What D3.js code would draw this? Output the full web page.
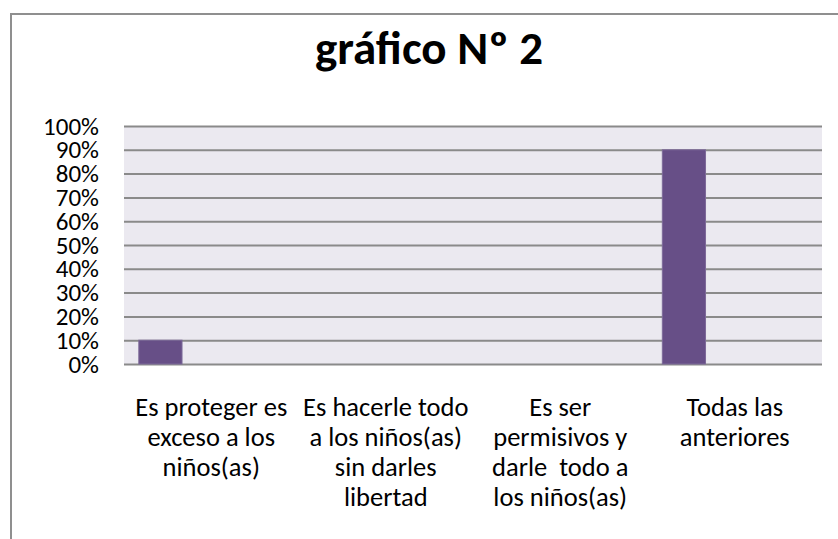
<!DOCTYPE html>
<html>
<head>
<meta charset="utf-8">
<script src="https://cdn.jsdelivr.net/npm/d3@7"></script>
<style>
  body { margin: 0; background: #fff; }
  svg { display: block; }
</style>
</head>
<body>
<svg id="chart" width="838" height="539"></svg>
<script>
  // data
  var categories = [
    ['Es proteger es', 'exceso a los', 'niños(as)'],
    ['Es hacerle todo', 'a los niños(as)', 'sin darles', 'libertad'],
    ['Es ser', 'permisivos y', 'darle  todo a', 'los niños(as)'],
    ['Todas las', 'anteriores']
  ]
  var values = [0.10, 0, 0, 0.90]
  var yTicks = [0, 0.1, 0.2, 0.3, 0.4, 0.5, 0.6, 0.7, 0.8, 0.9, 1]
  var title = 'gráfico Nº 2'

  var svgWidth = 838, svgHeight = 539
  var plot = {left: 124, right: 822, top: 126, bottom: 364}
  var font = "Carlito, 'Liberation Sans Narrow', 'Open Sans', sans-serif"

  var svg = d3.select('#chart')

  // outer chart border
  svg.append('rect')
     .attr('x', 11).attr('y', 14)
     .attr('width', 900).attr('height', 600)
     .style('fill', '#fff')
     .style('stroke', '#8f8f8f')
     .style('stroke-width', 2)

  var x = d3.scaleBand()
            .domain(d3.range(categories.length))
            .range([plot.left, plot.right])
            .paddingInner(0).paddingOuter(0)

  // bar slot inside each category (bars sit left of centre, as in the original)
  var slot = d3.scaleBand()
               .domain([0, 1, 2])
               .range([0, x.bandwidth()])
               .paddingOuter(0.52)
               .align(0.33)

  var y = d3.scaleLinear().domain([0, 1]).range([plot.bottom, plot.top])

  svg.append('rect')
     .attr('x', plot.left).attr('y', plot.top)
     .attr('width', plot.right - plot.left)
     .attr('height', plot.bottom - plot.top)
     .style('fill', '#ebe9f0')

  // gridlines
  svg.append('g')
     .attr('transform', 'translate(' + plot.left + ',0)')
     .call(d3.axisRight(y).tickValues(yTicks).tickSize(plot.right - plot.left).tickFormat(''))
     .call(function(g){
       g.select('.domain').remove()
       g.selectAll('line').style('stroke', '#8a8a8a').style('stroke-width', 2)
     })

  // y labels
  svg.append('g')
     .attr('transform', 'translate(' + plot.left + ',0)')
     .call(d3.axisLeft(y).tickValues(yTicks).tickSize(0).tickPadding(25).tickFormat(d3.format('.0%')))
     .call(function(g){
       g.select('.domain').remove()
       g.selectAll('text')
        .style('font-family', font)
        .style('font-size', '25px')
        .style('fill', '#000')
     })

  // bars
  svg.selectAll('rect.bar')
     .data(values)
     .enter()
     .append('rect')
     .attr('class', 'bar')
     .attr('x', function(d, i){ return x(i) + slot(0) })
     .attr('width', slot.bandwidth())
     .attr('y', function(d){ return y(d) })
     .attr('height', function(d){ return y(0) - y(d) })
     .style('fill', '#674f87')
     .style('stroke', '#7d6a99')
     .style('stroke-width', 1)
     .style('display', function(d){ return d > 0 ? null : 'none' })

  // category labels
  var labels = svg.selectAll('text.cat')
     .data(categories)
     .enter()
     .append('text')
     .attr('class', 'cat')
     .attr('text-anchor', 'middle')
     .attr('x', function(d, i){ return x(i) + x.bandwidth() / 2 })
     .attr('y', 416)
     .style('font-family', font)
     .style('font-size', '26.5px')
     .style('white-space', 'pre')
     .style('fill', '#000')

  labels.selectAll('tspan')
     .data(function(d){ return d })
     .enter()
     .append('tspan')
     .attr('x', function(){ return d3.select(this.parentNode).attr('x') })
     .attr('dy', function(d, i){ return i === 0 ? 0 : 30 })
     .text(function(d){ return d })

  svg.append('text')
     .attr('x', 429).attr('y', 64)
     .attr('text-anchor', 'middle')
     .style('font-family', font)
     .style('font-size', '47px')
     .style('font-weight', 'bold')
     .style('fill', '#000')
     .text(title)
</script>
</body>
</html>
